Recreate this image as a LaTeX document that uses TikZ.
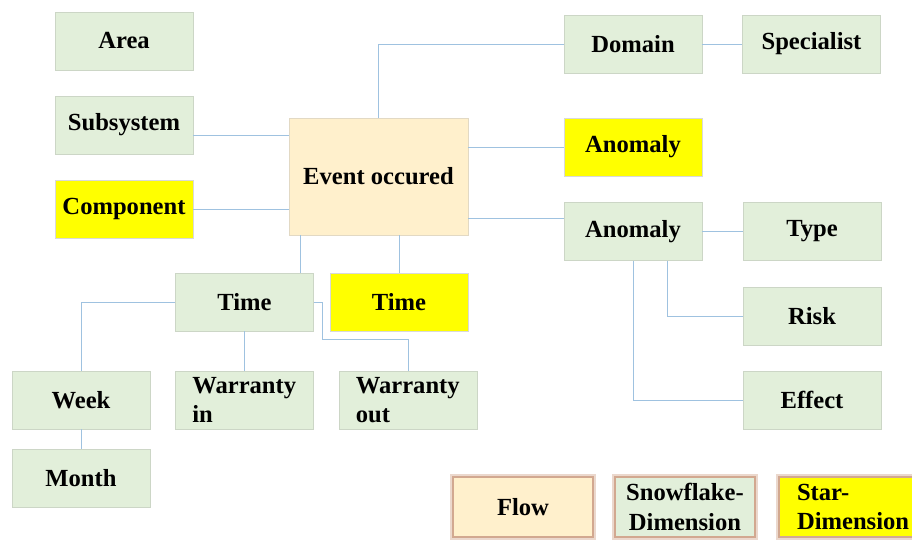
\documentclass[tikz,border=0pt]{standalone}
\usepackage{fontspec}
\setmainfont{Liberation Serif}
\usepackage{tikz}
\usetikzlibrary{positioning}

\definecolor{dimgreen}{HTML}{E2EFDA}
\definecolor{dimborder}{HTML}{CCD6C6}
\definecolor{starfill}{HTML}{FFFF00}
\definecolor{flowfill}{HTML}{FFF0CC}
\definecolor{flowborder}{HTML}{E2D9C4}
\definecolor{linkblue}{HTML}{9FC2E0}
\definecolor{glow}{HTML}{D2A890}

\tikzset{
  box/.style={draw=dimborder, line width=0.6pt, minimum width=3.45cm, minimum height=1.45cm,
              font=\fontsize{17.5}{21}\selectfont\bfseries},
  snow/.style={box, fill=dimgreen},
  star/.style={box, fill=starfill, draw=black!15},
  legend/.style={box, line width=1.4pt, draw=glow,
                 preaction={draw=glow!45, line width=4pt},
                 minimum width=3.5cm, minimum height=1.5cm},
  twoline/.style={align=left, text width=2.61cm, inner xsep=0.42cm, anchor=north, inner ysep=1pt},
  link/.style={draw=linkblue, line width=0.7pt}
}

\begin{document}
\begin{tikzpicture}[font=\small]

\useasboundingbox (0,0) rectangle (22.8,13.5);
\clip (0,0) rectangle (22.8,13.5);

% ===============================================================
% Left column
% ===============================================================

\node[snow] (area)   at (3.1,12.475) {Area};
\node[snow] (subsys) at (3.1,10.375) {Subsystem};
\node[star] (comp)   at (3.1,8.275)  {Component};

% fact in the middle
\node[box, fill=flowfill, draw=flowborder, minimum width=4.475cm, minimum height=2.925cm]
      (event) at (9.4625,9.0875) {Event occured};

% ===============================================================
% Right side: domain and anomaly
% ===============================================================

\node[snow] (domain) at (15.825,12.4)  {Domain};
\node[snow] (spec)   at (20.2875,12.4) {Specialist};

\node[star] (anoyel) at (15.825,9.825)  {Anomaly};
\node[snow] (anogrn) at (15.825,7.7125) {Anomaly};

\node[snow] (type)   at (20.3,7.7125) {Type};
\node[snow] (risk)   at (20.3,5.6)    {Risk};
\node[snow] (effect) at (20.3,3.5)    {Effect};

% ===============================================================
% Bottom: time
% ===============================================================

\node[snow] (timegrn) at (6.1125,5.95) {Time};
\node[star] (timeyel) at (9.975,5.95)  {Time};

\node[snow, twoline] (warin)  at (6.1125,4.2375) {Warranty\\in};
\node[snow, twoline] (warout) at (10.2,4.2375)   {Warranty\\out};

\node[snow] (week)  at (2.025,3.5)    {Week};
\node[snow] (month) at (2.025,1.5375) {Month};

% ===============================================================
% Legend
% ===============================================================

\node[legend, fill=flowfill] (lflow) at (13.075,0.825) {Flow};
\node[legend, fill=dimgreen, align=center] (lsnow) at (17.125,0.825) {Snowflake-\\Dimension};
\node[legend, fill=starfill, align=left, text width=2.6cm, inner xsep=0.45cm] (lstar)
      at (21.225,0.825) {Star-\\Dimension};

% ===============================================================
% Connectors
% ===============================================================

\draw[link] ([yshift=-0.26cm]subsys.east) -- ([yshift=-0.26cm]subsys.east -| event.west);
\draw[link] (comp.east) -- (comp.east -| event.west);

\draw[link] (event.north) |- (domain.west);
\draw[link] (domain.east) -- (spec.west);
\draw[link] (anoyel.west -| event.east) -- (anoyel.west);
\draw[link] ([yshift=0.33cm]anogrn.west -| event.east) -- ([yshift=0.33cm]anogrn.west);

\draw[link] (anogrn.east) -- (type.west);
\draw[link] ([xshift=0.85cm]anogrn.south) |- (risk.west);
\draw[link] (anogrn.south) |- (effect.west);

\draw[link] ([xshift=1.41cm]timegrn.north) -- ([xshift=1.41cm]timegrn.north |- event.south);
\draw[link] (timeyel.north) -- (timeyel.north |- event.south);

\draw[link] (timegrn.west) -| (week.north);
\draw[link] (week.south) -- (month.north);
\draw[link] (timegrn.south) -- (warin.north);
\draw[link] (timegrn.east) -- ++(0.225,0) -- ++(0,-0.925) -| (warout.north);

\end{tikzpicture}
\end{document}
